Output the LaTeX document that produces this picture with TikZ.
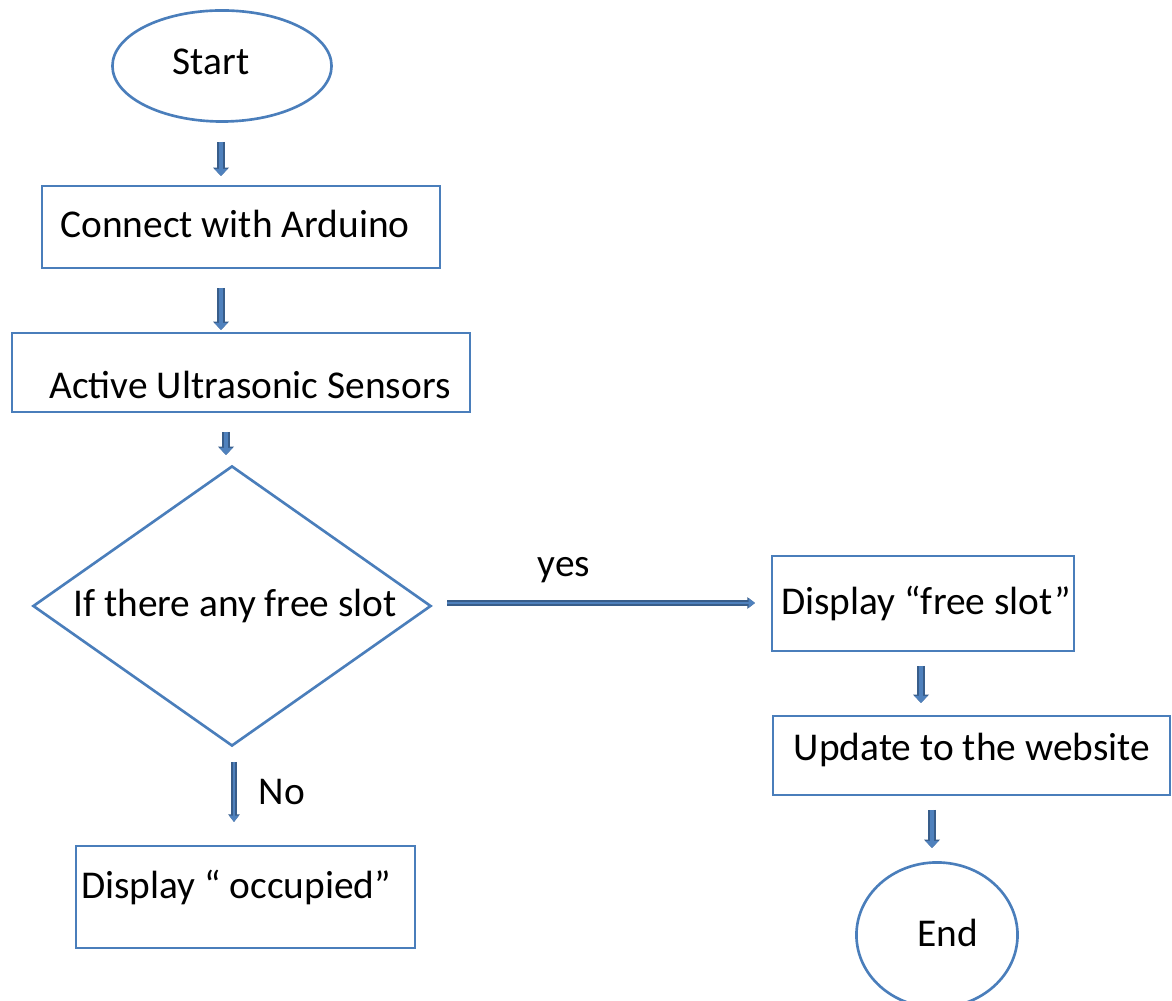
\documentclass[tikz,border=0pt]{standalone}
\usepackage{fontspec}
\setmainfont{Carlito}
\usetikzlibrary{shapes.geometric,arrows.meta}
\definecolor{shapeblue}{HTML}{4A7EBB}
\definecolor{arrowfill}{HTML}{4F81BD}
\definecolor{arrowedge}{HTML}{385D8A}
\begin{document}
\begin{tikzpicture}[x=0.01cm,y=-0.01cm,
  every node/.style={font=\fontsize{11.2}{13.5}\selectfont, inner sep=0pt},
  shp/.style={draw=shapeblue, line width=0.75pt, fill=white},
  boxnode/.style={shp, rectangle},
  ovalnode/.style={shp, ellipse},
  decision/.style={shp, diamond, aspect=1.42},
  blockarrow/.style={preaction={draw=arrowedge, line width=2.1pt, -{Triangle[width=4.4pt,length=2.4pt]}},
    draw=arrowfill, line width=1.1pt, -{Triangle[width=3.6pt,length=2pt]}},
  thinarrow/.style={preaction={draw=arrowedge, line width=1.5pt, -{Triangle[width=3.2pt,length=2.2pt]}},
    draw=arrowfill, line width=0.7pt, -{Triangle[width=2.6pt,length=1.8pt]}},
  lbl/.style={font=\fontsize{11.2}{13.5}\selectfont}]
\useasboundingbox (0,0) rectangle (1172,1001);

\node[ovalnode, minimum width=2.19cm, minimum height=1.11cm] (start) at (222,66) {};
\node at (211,62) (starttxt) {Start};
\node[boxnode, minimum width=3.98cm, minimum height=0.82cm] (connect) at (241,227) {};
\node (connecttxt) at (235,224) {Connect with Arduino};
\node[boxnode, minimum width=4.58cm, minimum height=0.79cm] (active) at (241,372.5) {};
\node (activetxt) at (250,385) {Active Ultrasonic Sensors};
\node[decision, minimum width=3.98cm, minimum height=2.8cm] (decide) at (232,606) {};
\node (decidetxt) at (235,606) {If there any free slot};
\node[boxnode, minimum width=3.02cm, minimum height=0.95cm] (free) at (923,603.5) {};
\node (freetxt) at (926,603) {Display “free slot”};
\node[boxnode, minimum width=3.97cm, minimum height=0.79cm] (update) at (971.5,755.5) {};
\node (updatetxt) at (972,750) {Update to the website};
\node[ovalnode, minimum width=1.61cm, minimum height=1.45cm] (end) at (937,935) {};
\node (endtxt) at (948,933) {End};
\node[boxnode, minimum width=3.39cm, minimum height=1.02cm] (occupied) at (245.5,897) {};
\node (occupiedtxt) at (236,887) {Display “ occupied”};

\node[lbl] (yes) at (564,570) {yes};
\node[lbl] (no) at (282,792) {No};

\coordinate (a1s) at (221,142); \coordinate (a1e) at (221,176);
\coordinate (a2s) at (221,288); \coordinate (a2e) at (221,330);
\coordinate (a3s) at (226,432); \coordinate (a3e) at (226,455);
\coordinate (a4s) at (447,603); \coordinate (a4e) at (755,603);
\coordinate (a5s) at (921,666); \coordinate (a5e) at (921,703);
\coordinate (a6s) at (932,810); \coordinate (a6e) at (932,848);
\coordinate (a7s) at (234,762); \coordinate (a7e) at (234,822);

\draw[blockarrow] (a1s) -- (a1e);
\draw[blockarrow] (a2s) -- (a2e);
\draw[blockarrow] (a3s) -- (a3e);
\draw[thinarrow] (a4s) -- (a4e);
\draw[blockarrow] (a5s) -- (a5e);
\draw[blockarrow] (a6s) -- (a6e);
\draw[thinarrow] (a7s) -- (a7e);
\end{tikzpicture}
\end{document}
